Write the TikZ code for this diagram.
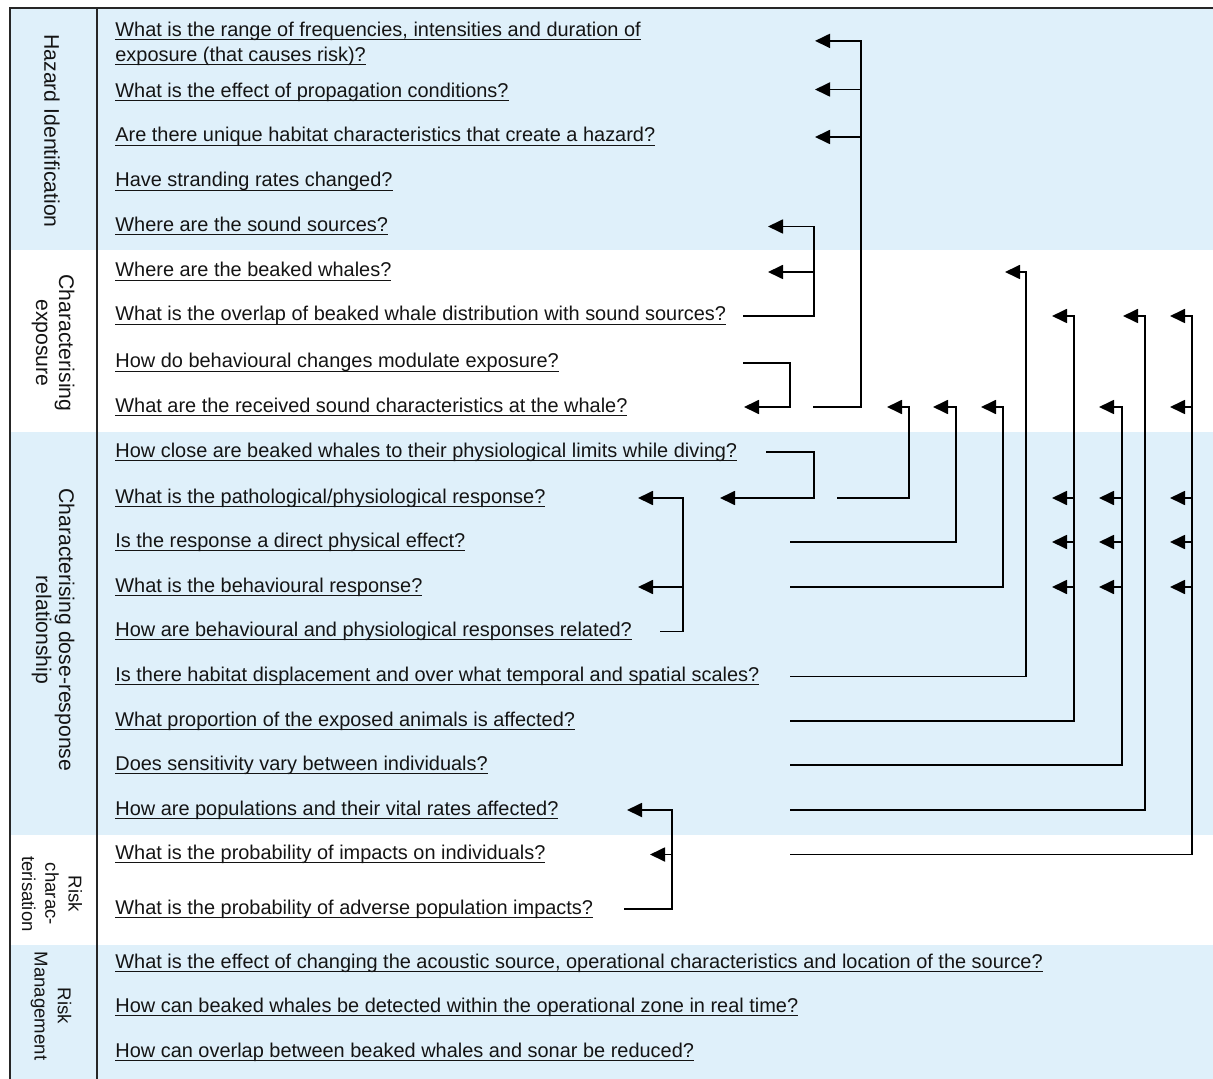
\documentclass[tikz,border=0pt]{standalone}
\usepackage{fontspec}
\setmainfont{Liberation Sans}
\usetikzlibrary{arrows.meta}
\definecolor{band}{RGB}{223,240,250}
\definecolor{ink}{RGB}{20,20,20}
\newcommand\qul[1]{\setbox0\hbox{#1}\rlap{\rule[-1.8pt]{\wd0}{0.5pt}}\box0}
\begin{document}
\begin{tikzpicture}[x=0.5pt,y=-0.5pt,
  q/.style={anchor=base west, inner sep=0pt, text height=7pt, text depth=2pt,
            font=\fontsize{9.97}{11}\selectfont, text=ink},
  lab/.style={rotate=-90, inner sep=0pt, align=center,
            font=\fontsize{10.6}{11.5}\selectfont, text=ink},
  smalllab/.style={lab, font=\fontsize{9.3}{11.6}\selectfont},
  ln/.style={line width=0.9pt, draw=black},
  arr/.style={ln, -{Triangle[length=7.5pt,width=7pt]}},
  frame/.style={line width=0.8pt, draw=black!85}]
\useasboundingbox (0,0) rectangle (1213,1079);
% bands
\fill[band] (10,9) rectangle (1213,250);
\fill[band] (10,432) rectangle (1213,835);
\fill[band] (10,945) rectangle (1213,1079);
\draw[frame] (1213,8) -- (10,8) -- (10,1079);
\draw[frame] (97,8) -- (97,1079);
% section labels
\node[lab] (L1) at (52,131) {Hazard Identification};
\node[lab] (L2) at (53,343) {Characterising\\exposure};
\node[lab] (L3) at (53,630) {Characterising dose-response\\relationship};
\node[smalllab] (L4) at (52,894) {Risk\\charac-\\terisation};
\node[smalllab] (L5) at (51,1006) {Risk\\Management};
% questions
\node[q] (q1) at (115,36.5) {\qul{What is the range of frequencies, intensities and duration of}};
\node[q] (q1b) at (115,61.5) {\qul{exposure (that causes risk)?}};
\node[q] (q2) at (115,97.5) {\qul{What is the effect of propagation conditions?}};
\node[q] (q3) at (115,142) {\qul{Are there unique habitat characteristics that create a hazard?}};
\node[q] (q4) at (115,187) {\qul{Have stranding rates changed?}};
\node[q] (q5) at (115,231.5) {\qul{Where are the sound sources?}};
\node[q] (q6) at (115,277) {\qul{Where are the beaked whales?}};
\node[q] (q7) at (115,321) {\qul{What is the overlap of beaked whale distribution with sound sources?}};
\node[q] (q8) at (115,368) {\qul{How do behavioural changes modulate exposure?}};
\node[q] (q9) at (115,412) {\qul{What are the received sound characteristics at the whale?}};
\node[q] (q10) at (115,457) {\qul{How close are beaked whales to their physiological limits while diving?}};
\node[q] (q11) at (115,503) {\qul{What is the pathological/physiological response?}};
\node[q] (q12) at (115,547) {\qul{Is the response a direct physical effect?}};
\node[q] (q13) at (115,592) {\qul{What is the behavioural response?}};
\node[q] (q14) at (115,636.5) {\qul{How are behavioural and physiological responses related?}};
\node[q] (q15) at (115,681.5) {\qul{Is there habitat displacement and over what temporal and spatial scales?}};
\node[q] (q16) at (115,726) {\qul{What proportion of the exposed animals is affected?}};
\node[q] (q17) at (115,770) {\qul{Does sensitivity vary between individuals?}};
\node[q] (q18) at (115,815) {\qul{How are populations and their vital rates affected?}};
\node[q] (q19) at (115,859.5) {\qul{What is the probability of impacts on individuals?}};
\node[q] (q20) at (115,914) {\qul{What is the probability of adverse population impacts?}};
\node[q] (q21) at (115,968) {\qul{What is the effect of changing the acoustic source, operational characteristics and location of the source?}};
\node[q] (q22) at (115,1012.5) {\qul{How can beaked whales be detected within the operational zone in real time?}};
\node[q] (q23) at (115,1057) {\qul{How can overlap between beaked whales and sonar be reduced?}};
% x positions of connector ends
\foreach \v in {624,627,638,650,660,672,683,720,743,744,766,768,790,813,814,815,837,861,887,909,933,956,981,1003,1005,1026,1052,1074,1099,1122,1123,1145,1170,1192}
  \coordinate (x\v) at (\v,0);
\coordinate (r2) at ([yshift=1.5pt]q2.center);
% row 9 -> rows 1,2,3
\draw[arr] (q9 -| x813) -- (q9 -| x861) -- (q1.south -| x861) -- (q1.south -| x815);
\draw[arr] (r2 -| x861) -- (r2 -| x815);
\draw[arr] (q3 -| x861) -- (q3 -| x815);
% row 7 -> rows 5,6
\draw[arr] (q7 -| x743) -- (q7 -| x814) -- (q5 -| x814) -- (q5 -| x768);
\draw[arr] (q6 -| x814) -- (q6 -| x768);
% row 8 -> row 9
\draw[arr] (q8 -| x743) -- (q8 -| x790) -- (q9 -| x790) -- (q9 -| x744);
% row 10 -> row 11
\draw[arr] (q10 -| x766) -- (q10 -| x814) -- (q11 -| x814) -- (q11 -| x720);
% rows 11,12,13 -> row 9
\draw[arr] (q11 -| x837) -- (q11 -| x909) -- (q9 -| x909) -- (q9 -| x887);
\draw[arr] (q12 -| x790) -- (q12 -| x956) -- (q9 -| x956) -- (q9 -| x933);
\draw[arr] (q13 -| x790) -- (q13 -| x1003) -- (q9 -| x1003) -- (q9 -| x981);
% row 14 -> rows 11,13
\draw[arr] (q14 -| x660) -- (q14 -| x683) -- (q11 -| x683) -- (q11 -| x638);
\draw[arr] (q13 -| x683) -- (q13 -| x638);
% row 15 -> row 6
\draw[arr] (q15 -| x790) -- (q15 -| x1026) -- (q6 -| x1026) -- (q6 -| x1005);
% row 16 -> rows 7,11,12,13
\draw[arr] (q16 -| x790) -- (q16 -| x1074) -- (q7 -| x1074) -- (q7 -| x1052);
\foreach \r in {11,12,13} \draw[arr] (q\r -| x1074) -- (q\r -| x1052);
% row 17 -> rows 9,11,12,13
\draw[arr] (q17 -| x790) -- (q17 -| x1122) -- (q9 -| x1122) -- (q9 -| x1099);
\foreach \r in {11,12,13} \draw[arr] (q\r -| x1122) -- (q\r -| x1099);
% row 18 -> row 7
\draw[arr] (q18 -| x790) -- (q18 -| x1145) -- (q7 -| x1145) -- (q7 -| x1123);
% row 19 -> rows 7,9,11,12,13
\draw[arr] (q19 -| x790) -- (q19 -| x1192) -- (q7 -| x1192) -- (q7 -| x1170);
\foreach \r in {9,11,12,13} \draw[arr] (q\r -| x1192) -- (q\r -| x1170);
% row 20 -> rows 18,19
\draw[arr] (q20 -| x624) -- (q20 -| x672) -- (q18 -| x672) -- (q18 -| x627);
\draw[arr] (q19 -| x672) -- (q19 -| x650);
\end{tikzpicture}
\end{document}
